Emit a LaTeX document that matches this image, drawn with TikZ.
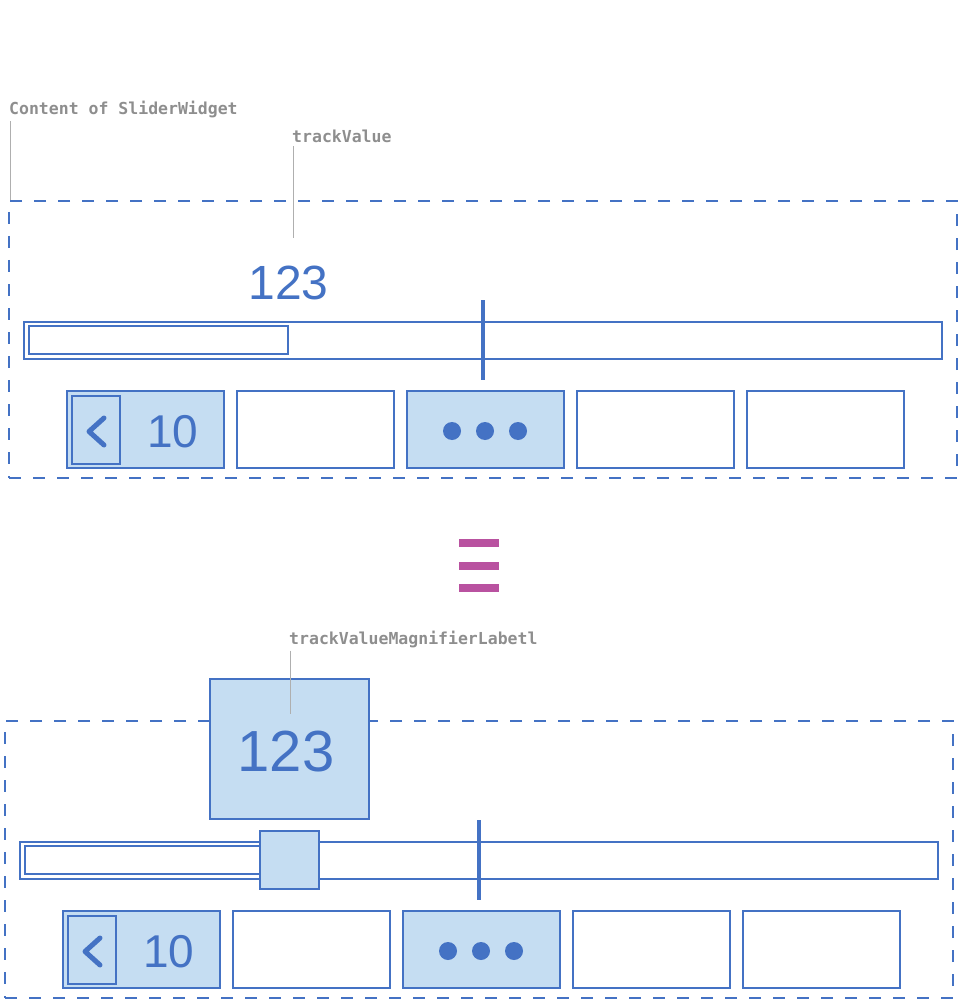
\documentclass[tikz,border=0pt]{standalone}
\usepackage{fontspec}
\usepackage{tikz}
\setmainfont{Liberation Sans}
\newfontfamily\notefont{DejaVu Sans Mono}
\definecolor{sliderblue}{RGB}{68,114,196}
\definecolor{sliderfill}{RGB}{197,221,242}
\definecolor{equalpink}{RGB}{185,82,160}
\definecolor{notegray}{RGB}{142,142,142}
\definecolor{leadergray}{RGB}{175,175,175}

\begin{document}
\begin{tikzpicture}[x=1pt, y=-1pt,
  frame/.style={draw=sliderblue, line width=2pt, dash pattern=on 12pt off 12pt, minimum width=948pt, minimum height=277pt, inner sep=0pt},
  bar/.style={draw=sliderblue, line width=2pt, inner sep=0pt},
  key/.style={bar, minimum width=157pt, minimum height=77pt},
  note/.style={anchor=base west, inner sep=0pt, text=notegray, font=\notefont\bfseries\fontsize{16.5}{16.5}\selectfont},
  leader/.style={draw=leadergray, line width=1pt},
  digits/.style={inner sep=0pt, text=sliderblue}]
\useasboundingbox (0,0) rectangle (959,1000);

% upper slider
\node[frame] (frameTop) at (483,339.5) {};
\node[note] (noteContent) at (9,114.5) {Content of SliderWidget};
\node[note] (noteValue) at (292,143) {trackValue};
\coordinate (valueEnd) at (293.3,238);
\draw[leader] ([xshift=1pt,yshift=-3pt]noteContent.south west) -- ([xshift=1pt]noteContent.south west |- frameTop.north);
\draw[leader] ([xshift=1.3pt,yshift=-3pt]noteValue.south west) -- (valueEnd);
\node[digits, font=\fontsize{48}{48}\selectfont] (valueTop) at (288.5,283) {123};
\node[bar, minimum width=918pt, minimum height=37pt] (trackTop) at (483,340) {};
\node[bar, line width=1.6pt, minimum width=259pt, minimum height=28pt] (fillTop) at (158.5,340) {};
\draw[sliderblue, line width=4pt] (483,300) -- (483,380);
\foreach \k/\x in {1/145.5,2/315,3/485,4/655,5/825}
  \node[key] (keyTop\k) at (\x,429.5) {};
\path[fill=sliderfill] (keyTop1.south west) rectangle (keyTop1.north east);
\path[fill=sliderfill] (keyTop3.south west) rectangle (keyTop3.north east);
\node[key] at (keyTop1) {};
\node[key] at (keyTop3) {};
\node[bar, fill=sliderfill, minimum width=48pt, minimum height=68pt] (backTop) at (96,430) {};
\draw[sliderblue, line width=5pt, line cap=round, line join=round] (104,418) -- (89,431.5) -- (104,445);
\node[digits, font=\fontsize{46}{46}\selectfont] (stepTop) at (173,431.5) {10};
\foreach \x in {452,485,518}
  \fill[sliderblue] (\x,431) circle (9);

% equals sign
\foreach \y in {543,565.5,588}
  \fill[equalpink] (459,\y-4) rectangle (499,\y+4);

% lower slider
\begin{scope}[shift={(-4,520)}]
\node[frame] (frameBot) at (483,339.5) {};
\node[bar, minimum width=918pt, minimum height=37pt] (trackBot) at (483,340) {};
\node[bar, line width=1.6pt, minimum width=235pt, minimum height=28pt] (fillBot) at (146.5,340) {};
\node[bar, fill=sliderfill, minimum width=59pt, minimum height=58pt] (thumbBot) at (293.5,340) {};
\draw[sliderblue, line width=4pt] (483,300) -- (483,380);
\node[bar, fill=sliderfill, minimum width=159pt, minimum height=140pt] (magnifier) at (293.5,229) {};
\node[digits, font=\fontsize{58}{58}\selectfont] (valueBot) at (290,232) {123};
\node[note] (noteMagnifier) at (293,124) {trackValueMagnifierLabetl};
\coordinate (magnifierEnd) at (294,194);
\draw[leader] ([xshift=1pt,yshift=-3pt]noteMagnifier.south west) -- (magnifierEnd);
\foreach \k/\x in {1/145.5,2/315,3/485,4/655,5/825}
  \node[key] (keyBot\k) at (\x,429.5) {};
\path[fill=sliderfill] (keyBot1.south west) rectangle (keyBot1.north east);
\path[fill=sliderfill] (keyBot3.south west) rectangle (keyBot3.north east);
\node[key] at (keyBot1) {};
\node[key] at (keyBot3) {};
\node[bar, fill=sliderfill, minimum width=48pt, minimum height=68pt] (backBot) at (96,430) {};
\draw[sliderblue, line width=5pt, line cap=round, line join=round] (104,418) -- (89,431.5) -- (104,445);
\node[digits, font=\fontsize{46}{46}\selectfont] (stepBot) at (173,431.5) {10};
\foreach \x in {452,485,518}
  \fill[sliderblue] (\x,431) circle (9);
\end{scope}
\end{tikzpicture}
\end{document}
